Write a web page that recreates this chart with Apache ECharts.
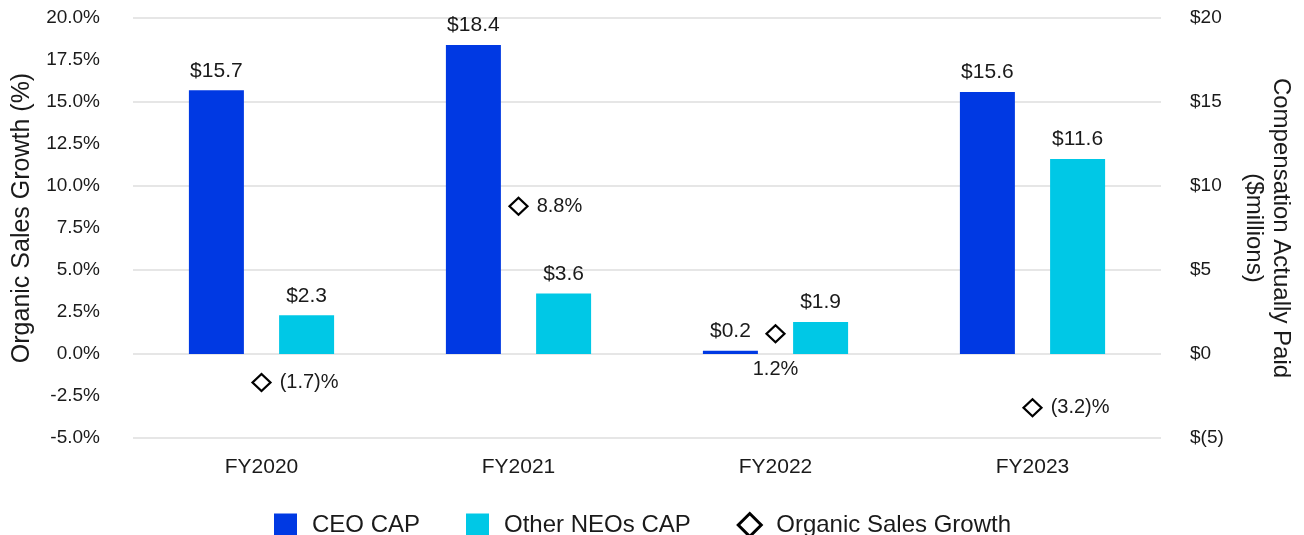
<!DOCTYPE html>
<html>
<head>
<meta charset="utf-8">
<script src="https://cdn.jsdelivr.net/npm/echarts@6/dist/echarts.min.js"></script>
<style>
  html, body { margin: 0; padding: 0; background: #fff; }
  #chart { width: 1304px; height: 535px; }
</style>
</head>
<body>
<div id="chart"></div>
<script>
// Fiscal years on the category axis
const years = ['FY2020', 'FY2021', 'FY2022', 'FY2023'];
// Compensation actually paid, $ millions
const ceoCap = [15.7, 18.4, 0.2, 15.6];
const otherNeoCap = [2.3, 3.6, 1.9, 11.6];
// Organic sales growth, percent
const organicGrowth = [-1.7, 8.8, 1.2, -3.2];
// Where each growth label sits relative to its marker
const growthLabelPos = ['right', 'right', 'bottom', 'right'];

const FONT = 'Liberation Sans, Arial, sans-serif';
const TEXT = '#1a1a1a';
const CEO_BLUE = '#0039E3';
const NEO_CYAN = '#00C8E6';

const fmtMoney = v => '$' + v.toFixed(1);
const fmtPct = v => v < 0 ? '(' + Math.abs(v).toFixed(1) + ')%' : v.toFixed(1) + '%';

const chart = echarts.init(document.getElementById('chart'));
chart.setOption({
  animation: false,
  textStyle: { fontFamily: FONT, color: TEXT },
  grid: { left: 133, right: 143, top: 18, bottom: 97, outerBoundsMode: 'none', containLabel: false },
  legend: {
    top: 507,
    left: 269,
    itemGap: 46,
    itemWidth: 23,
    itemHeight: 23,
    textStyle: { fontFamily: FONT, fontSize: 24, color: TEXT, padding: [0, 0, 0, 10] },
    data: [
      { name: 'CEO CAP', icon: 'rect', itemStyle: { color: CEO_BLUE } },
      { name: 'Other NEOs CAP', icon: 'rect', itemStyle: { color: NEO_CYAN } },
      { name: 'Organic Sales Growth', icon: 'diamond', itemStyle: { color: '#fff', borderColor: '#000', borderWidth: 3 } }
    ]
  },
  xAxis: {
    type: 'category',
    data: years,
    axisLine: { show: false },
    axisTick: { show: false },
    axisLabel: { fontSize: 21, color: TEXT, margin: 19, fontFamily: FONT }
  },
  yAxis: [
    {
      type: 'value',
      min: -5, max: 20, interval: 2.5,
      name: 'Organic Sales Growth (%)',
      nameLocation: 'middle',
      nameGap: 98,
      nameTextStyle: { fontSize: 25, color: TEXT, fontFamily: FONT, padding: [0, 0, 0, 20] },
      splitLine: { show: false },
      axisLine: { show: false },
      axisTick: { show: false },
      axisLabel: { fontSize: 19, color: TEXT, margin: 33, fontFamily: FONT, formatter: v => v.toFixed(1) + '%' }
    },
    {
      type: 'value',
      min: -5, max: 20, interval: 5,
      position: 'right',
      name: 'Compensation Actually Paid\n($millions)',
      nameLocation: 'middle',
      nameRotate: -90,
      nameGap: 79,
      nameTextStyle: { fontSize: 24, color: TEXT, fontFamily: FONT, lineHeight: 27 },
      splitLine: { show: true, lineStyle: { color: '#e6e6e6', width: 2 } },
      axisLine: { show: false },
      axisTick: { show: false },
      axisLabel: { fontSize: 19, color: TEXT, margin: 29, fontFamily: FONT, formatter: v => v < 0 ? '$(' + (-v) + ')' : '$' + v }
    }
  ],
  series: [
    {
      name: 'CEO CAP',
      type: 'bar',
      yAxisIndex: 1,
      data: ceoCap,
      barWidth: 55,
      barGap: '64%',
      itemStyle: { color: CEO_BLUE },
      label: { show: true, position: 'top', distance: 9, fontSize: 21, color: TEXT, fontFamily: FONT, formatter: p => fmtMoney(p.value) }
    },
    {
      name: 'Other NEOs CAP',
      type: 'bar',
      yAxisIndex: 1,
      data: otherNeoCap,
      barWidth: 55,
      itemStyle: { color: NEO_CYAN },
      label: { show: true, position: 'top', distance: 9, fontSize: 21, color: TEXT, fontFamily: FONT, formatter: p => fmtMoney(p.value) }
    },
    {
      name: 'Organic Sales Growth',
      type: 'scatter',
      yAxisIndex: 0,
      symbol: 'diamond',
      symbolSize: [18, 17],
      itemStyle: { color: '#fff', borderColor: '#000', borderWidth: 2.2, opacity: 1 },
      data: organicGrowth.map((v, i) => ({
        value: v,
        label: { position: growthLabelPos[i], distance: growthLabelPos[i] === 'bottom' ? 16 : 8 }
      })),
      label: { show: true, fontSize: 20, color: TEXT, fontFamily: FONT, formatter: p => fmtPct(p.value) },
      z: 5
    }
  ]
});
</script>
</body>
</html>
